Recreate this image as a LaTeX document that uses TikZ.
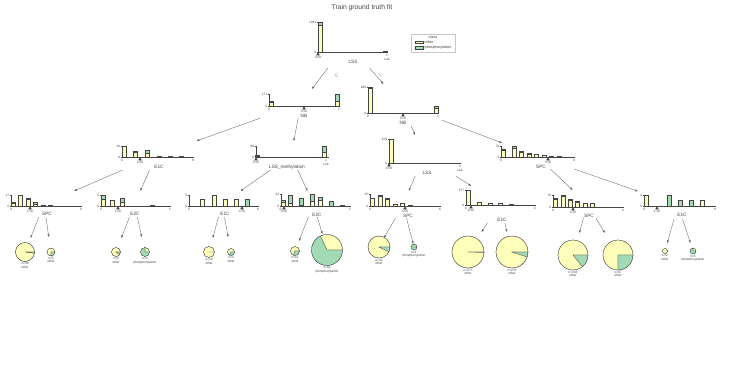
\documentclass[tikz,border=0pt]{standalone}
\usepackage{fontspec}
\setmainfont{Liberation Sans}
\usepackage{tikz}
\usetikzlibrary{arrows.meta, calc}

\definecolor{classA}{HTML}{FEFEBB}
\definecolor{classB}{HTML}{A1DAB4}
\definecolor{axisgray}{HTML}{444443}
\definecolor{edgegray}{HTML}{5A5A5A}

% axes of one histogram: name, x0, x1, base, top, max count
\newcommand{\histaxes}[6]{%
  \draw[yaxisline] (#2,#5) -- (#2,#4);
  \draw[yaxisline] (#2-1.2,#5) -- (#2,#5) (#2-1.2,#4) -- (#2,#4);
  \draw[xaxisline] (#2,#4) -- (#3,#4);
  \draw[yaxisline] (#3,#4) -- (#3,#4+1.2);
  \node[ticklbl, anchor=east] (#1-ymax) at (#2-1.4,#5) {#6};
  \node[ticklbl, anchor=east] (#1-ymin) at (#2-1.4,#4) {0};
}
% stacked bar: x, base, top of other, top of phosphorylation
\newcommand{\histbar}[4]{%
  \ifdim#2pt>#3pt \filldraw[barA] (#1,#2) rectangle (#1+4,#3);\fi
  \ifdim#3pt>#4pt \filldraw[barB] (#1,#3) rectangle (#1+4,#4);\fi
}
% split marker: name, x, base, value
\newcommand{\splitmark}[4]{%
  \fill[axisgray] (#2,#3+0.4) -- (#2-1.8,#3+3.4) -- (#2+1.8,#3+3.4) -- cycle;
  \node[ticklbl, anchor=north] (#1-split) at (#2,#3+3.6) {#4};
}
% leaf: name, cx, cy, radius, share of other, top of box, n, class
\newcommand{\pieleaf}[8]{%
  \node[leafbox, minimum width={(2*#4+4)*0.05cm}, minimum height={2*(#3-#6)*0.05cm}] (#1) at (#2,#3) {};
  \ifdim#5pt>0pt \filldraw[pieA] (#1.center) -- ++(0:#4) arc[start angle=0, end angle={-360*#5}, radius=#4] -- cycle;\fi
  \ifdim#5pt<1pt \filldraw[pieB] (#1.center) -- ++({-360*#5}:#4) arc[start angle={-360*#5}, end angle=-360, radius=#4] -- cycle;\fi
  \draw[pieedge] (#1.center) circle[radius=#4];
  \node[leaflbl] (#1-lbl) at ($(#1.center)+(0,#4+0.8)$) {n=#7\\#8};
}

\begin{document}
\begin{tikzpicture}[
    x=0.05cm, y=-0.05cm,
    panel/.style n args={2}{rectangle, inner sep=0pt, minimum width=#1*0.05cm, minimum height=#2*0.05cm},
    leafbox/.style={rectangle, inner sep=0pt},
    xaxisline/.style={draw=axisgray, line width=1.1pt},
    yaxisline/.style={draw=axisgray, line width=0.35pt},
    barA/.style={fill=classA, draw=axisgray, line width=0.3pt},
    barB/.style={fill=classB, draw=axisgray, line width=0.3pt},
    pieA/.style={fill=classA, draw=axisgray, line width=0.3pt},
    pieB/.style={fill=classB, draw=axisgray, line width=0.3pt},
    pieedge/.style={draw=axisgray, line width=0.3pt},
    ticklbl/.style={inner sep=0.3pt, text=axisgray, align=center, font=\fontsize{4.5}{6.5}\selectfont},
    featlbl/.style={inner sep=0pt, text=axisgray, font=\fontsize{6.7}{7}\selectfont},
    leaflbl/.style={anchor=north, inner sep=0pt, align=center, text=axisgray, font=\fontsize{4.6}{5.2}\selectfont},
    treeedge/.style={-{Triangle[length=3.6pt,width=2.6pt]}, draw=edgegray, line width=0.45pt},
    edgelbl/.style={inner sep=0pt, text=axisgray, font=\fontsize{6}{6}\selectfont},
    legitem/.style={anchor=west, inner sep=0pt, text=axisgray, font=\fontsize{5.4}{6}\selectfont},
]
    \fill[white] (0,0) rectangle (747,382);
    \useasboundingbox (0,0) rectangle (747,382);

    % Title
    \node[font=\fontsize{9.6}{11}\selectfont, text=axisgray] (title) at (362,8) {Train ground truth fit};

    % Legend
    \node[draw=gray!45, line width=0.4pt, panel={44}{18}] (legend) at (433,43) {};
    \node[legitem, anchor=center] (legend-title) at (433,37.5) {class};
    \filldraw[barA] (415,41) rectangle (423,43.3);
    \node[legitem] (legend-a) at (424.5,42.2) {other};
    \filldraw[barB] (415,46.5) rectangle (423,48.8);
    \node[legitem] (legend-b) at (424.5,47.7) {phosphorylation};

    % Root: LSS
    \node[panel={90}{51}] (lss0) at (347,42.5) {};
    \histaxes{lss0}{318}{387}{52}{22}{1281}
    \histbar{318}{52}{25}{22}
    \histbar{383}{52}{51.3}{51.3}
    \splitmark{lss0}{318}{52}{0.50}
    \node[ticklbl, anchor=north] (lss0-hi) at (387,53.5) {1\\Leb};
    \node[featlbl] (lss0-feat) at (353,62) {LSS};

    % Level 1: NB (left)
    \node[panel={88}{29}] (nb1) at (301,103.5) {};
    \histaxes{nb1}{269}{339}{106}{94}{171}
    \histbar{269}{106}{102}{101}
    \histbar{335}{106}{101}{94}
    \node[ticklbl, anchor=north] (nb1-lo) at (269,107.5) {0};
    \node[ticklbl, anchor=north] (nb1-hi) at (339,107.5) {1};
    \splitmark{nb1}{304}{106}{0.50}
    \node[featlbl] (nb1-feat) at (304,115.5) {NB};

    % Level 1: NB (right)
    \node[panel={80}{42}] (nb2) at (402,105) {};
    \histaxes{nb2}{368}{438}{113}{87}{889}
    \histbar{368}{113}{88}{87}
    \histbar{434}{113}{108}{106}
    \node[ticklbl, anchor=north] (nb2-lo) at (368,114.5) {0};
    \node[ticklbl, anchor=north] (nb2-hi) at (438,114.5) {1};
    \splitmark{nb2}{403}{113}{0.50}
    \node[featlbl] (nb2-feat) at (403,123) {NB};

    % Level 2: E1C
    \node[panel={82}{29}] (e1c1) at (156,155.5) {};
    \histaxes{e1c1}{122}{193}{157}{146}{20}
    \histbar{122}{157}{146.5}{146}
    \histbar{133}{157}{152}{151}
    \histbar{145}{157}{153}{150}
    \histbar{157}{157}{156.5}{155.8}
    \histbar{168}{157}{156.6}{156.3}
    \histbar{179}{157}{156.5}{156.5}
    \node[ticklbl, anchor=north] (e1c1-lo) at (122,158.5) {0};
    \node[ticklbl, anchor=north] (e1c1-hi) at (193,158.5) {6};
    \splitmark{e1c1}{140}{157}{1.50}
    \node[featlbl] (e1c1-feat) at (159,167) {E1C};

    % Level 2: LSS_methylation
    \node[panel={82}{29}] (lssm) at (291,155.5) {};
    \histaxes{lssm}{256}{328}{157}{146}{68}
    \histbar{255}{157}{156}{155}
    \histbar{322}{157}{152}{146}
    \splitmark{lssm}{256}{157}{0.50}
    \node[ticklbl, anchor=north] (lssm-hi) at (326,158.5) {1\\Leb};
    \node[featlbl] (lssm-feat) at (287,167) {LSS\_methylation};

    % Level 2: LSS
    \node[panel={84}{41}] (lss1) at (424,155.5) {};
    \histaxes{lss1}{389}{460}{163}{139}{878}
    \histbar{389}{163}{139.5}{139}
    \splitmark{lss1}{389}{163}{0.50}
    \node[ticklbl, anchor=north] (lss1-hi) at (460,164.5) {1\\Leb};
    \node[featlbl] (lss1-feat) at (427,173) {LSS};

    % Level 2: SPC
    \node[panel={83}{26}] (spc1) at (536.5,156) {};
    \histaxes{spc1}{501}{574}{157}{146}{70}
    \histbar{501}{157}{150.5}{149}
    \histbar{512}{157}{148}{146}
    \histbar{519}{157}{152}{151}
    \histbar{527}{157}{154}{153}
    \histbar{534}{157}{154.5}{154}
    \histbar{542}{157}{155.5}{155}
    \histbar{549}{157}{156.5}{156.5}
    \histbar{557}{157}{156.5}{156.5}
    \node[ticklbl, anchor=north] (spc1-lo) at (501,158.5) {0};
    \node[ticklbl, anchor=north] (spc1-hi) at (574,158.5) {6};
    \splitmark{spc1}{548}{157}{3.50}
    \node[featlbl] (spc1-feat) at (541,166.5) {SPC};

    % Level 3: SPC
    \node[panel={80}{26}] (spc2) at (44,204) {};
    \histaxes{spc2}{11}{81}{206}{195}{17}
    \histbar{11}{206}{203}{202}
    \histbar{18}{206}{195}{195}
    \histbar{26}{206}{199}{198}
    \histbar{33}{206}{204}{202}
    \histbar{41}{206}{205.5}{205}
    \histbar{48}{206}{205.2}{205.2}
    \node[ticklbl, anchor=north] (spc2-lo) at (11,207.5) {0};
    \node[ticklbl, anchor=north] (spc2-hi) at (81,207.5) {6};
    \splitmark{spc2}{30}{206}{1.50}
    \node[featlbl] (spc2-feat) at (47,214) {SPC};

    % Level 3: E2C
    \node[panel={77}{26}] (e2c1) at (134.5,204) {};
    \histaxes{e2c1}{101}{170}{206}{195}{5}
    \histbar{101}{206}{199}{195}
    \histbar{110}{206}{200}{200}
    \histbar{120}{206}{202}{198}
    \histbar{150}{206}{206}{205}
    \node[ticklbl, anchor=north] (e2c1-lo) at (101,207.5) {0};
    \node[ticklbl, anchor=north] (e2c1-hi) at (170,207.5) {1};
    \splitmark{e2c1}{118}{206}{1.00}
    \node[featlbl] (e2c1-feat) at (135,214) {E2C};

    % Level 3: E1C
    \node[panel={76}{26}] (e1c2) at (222,204) {};
    \histaxes{e1c2}{189}{258}{206}{195}{5}
    \histbar{200}{206}{199}{199}
    \histbar{212}{206}{195}{195}
    \histbar{223}{206}{199}{199}
    \histbar{234}{206}{199}{199}
    \histbar{245}{206}{206}{199}
    \node[ticklbl, anchor=north] (e1c2-lo) at (189,207.5) {0};
    \node[ticklbl, anchor=north] (e1c2-hi) at (258,207.5) {6};
    \splitmark{e1c2}{242}{206}{4.50}
    \node[featlbl] (e1c2-feat) at (225,214) {E1C};

    % Level 3: E2C
    \node[panel={77}{26}] (e2c2) at (313.5,204) {};
    \histaxes{e2c2}{281}{350}{206}{194}{23}
    \histbar{281}{206}{202.3}{200}
    \histbar{288}{206}{203}{195}
    \histbar{299}{206}{205}{198}
    \histbar{310}{206}{201}{194}
    \histbar{318}{206}{200}{197}
    \histbar{329}{206}{206}{201}
    \histbar{340}{206}{205.5}{205.5}
    \node[ticklbl, anchor=north] (e2c2-lo) at (280.5,207.5) {0};
    \node[ticklbl, anchor=north] (e2c2-hi) at (350,207.5) {1};
    \splitmark{e2c2}{284}{206}{0.50}
    \node[featlbl] (e2c2-feat) at (317,215) {E2C};

    % Level 3: SPC
    \node[panel={80}{27}] (spc3) at (403,204.5) {};
    \histaxes{spc3}{370}{440}{206}{194}{15}
    \histbar{370}{206}{198}{198}
    \histbar{378}{206}{196}{195}
    \histbar{385}{206}{199}{198}
    \histbar{393}{206}{204}{204}
    \histbar{400}{206}{203.5}{203}
    \histbar{408}{206}{205.3}{205.3}
    \node[ticklbl, anchor=north] (spc3-lo) at (370,207.5) {0};
    \node[ticklbl, anchor=north] (spc3-hi) at (440,207.5) {6};
    \splitmark{spc3}{405}{206}{4.50}
    \node[featlbl] (spc3-feat) at (408,215.5) {SPC};

    % Level 3: E1C
    \node[panel={80}{37}] (e1c3) at (500,204.5) {};
    \histaxes{e1c3}{466}{535}{205}{190}{577}
    \histbar{466}{205}{190}{190}
    \histbar{477}{205}{202}{202}
    \histbar{488}{205}{203.5}{203.5}
    \histbar{498}{205}{203.5}{203.5}
    \histbar{509}{205}{204.5}{204.5}
    \node[ticklbl, anchor=north] (e1c3-lo) at (466,206.5) {0};
    \node[ticklbl, anchor=north] (e1c3-hi) at (535,206.5) {6};
    \splitmark{e1c3}{471}{205}{0.50}
    \node[featlbl] (e1c3-feat) at (502,219.5) {E1C};

    % Level 3: SPC
    \node[panel={79}{28}] (spc4) at (587.5,204) {};
    \histaxes{spc4}{553}{623}{207}{195}{76}
    \histbar{553}{207}{199}{198}
    \histbar{561}{207}{196}{195}
    \histbar{568}{207}{200}{199}
    \histbar{575}{207}{202}{201.5}
    \histbar{583}{207}{203}{203}
    \histbar{590}{207}{203}{203}
    \node[ticklbl, anchor=north] (spc4-lo) at (553,208.5) {0};
    \node[ticklbl, anchor=north] (spc4-hi) at (623,208.5) {6};
    \splitmark{spc4}{573}{207}{2.50}
    \node[featlbl] (spc4-feat) at (589,215.5) {SPC};

    % Level 3: E1C
    \node[panel={80}{28}] (e1c4) at (678,205) {};
    \histaxes{e1c4}{644}{715}{206}{195}{2}
    \histbar{644}{206}{195}{195}
    \histbar{667}{206}{206}{195}
    \histbar{678}{206}{206}{200}
    \histbar{689}{206}{206}{200}
    \histbar{700}{206}{200}{200}
    \node[ticklbl, anchor=north] (e1c4-lo) at (644,207.5) {0};
    \node[ticklbl, anchor=north] (e1c4-hi) at (715,207.5) {6};
    \splitmark{e1c4}{657}{206}{1.50}
    \node[featlbl] (e1c4-feat) at (682,215) {E1C};

    % Leaves
    \pieleaf{leaf1}{25}{252}{9.5}{0.98}{238}{58}{other}
    \pieleaf{leaf2}{51}{252}{4}{0.75}{237}{5}{other}
    \pieleaf{leaf3}{116}{252}{4.5}{0.9}{238}{4}{other}
    \pieleaf{leaf4}{145}{252}{4.5}{0.25}{237}{4}{phosphorylation}
    \pieleaf{leaf5}{209}{252}{5.5}{1.0}{238}{14}{other}
    \pieleaf{leaf6}{231}{252}{3.5}{0.67}{237}{3}{other}
    \pieleaf{leaf7}{295}{251}{4.5}{0.7}{241}{11}{other}
    \pieleaf{leaf8}{327}{250}{15.5}{0.32}{234}{81}{phosphorylation}
    \pieleaf{leaf9}{379}{247}{11}{0.93}{238}{42}{other}
    \pieleaf{leaf10}{414}{247}{3}{0.0}{244}{1}{phosphorylation}
    \pieleaf{leaf11}{468}{252}{16}{0.997}{232}{577}{other}
    \pieleaf{leaf12}{512}{252}{16}{0.95}{232}{276}{other}
    \pieleaf{leaf13}{573}{255}{15}{0.86}{233}{183}{other}
    \pieleaf{leaf14}{618}{255}{15}{0.75}{233}{87}{other}
    \pieleaf{leaf15}{665}{251}{2.5}{1.0}{243}{2}{other}
    \pieleaf{leaf16}{693}{251}{3}{0.25}{243}{5}{phosphorylation}

    % Tree edges
    \draw[treeedge] (lss0) -- (nb1) node[edgelbl, pos=0.35, xshift=0.7cm] {$\le$};
    \draw[treeedge] (lss0) -- (nb2) node[edgelbl, pos=0.45, xshift=0.2cm] {$>$};
    \draw[treeedge] (nb1) -- (e1c1);
    \draw[treeedge] (nb1) -- (lssm);
    \draw[treeedge] (nb2) -- (lss1);
    \draw[treeedge] (nb2) -- (spc1);
    \draw[treeedge] (e1c1) -- (spc2);
    \draw[treeedge] (e1c1) -- (e2c1);
    \draw[treeedge] (lssm) -- (e1c2);
    \draw[treeedge] (lssm) -- (e2c2);
    \draw[treeedge] (lss1) -- (spc3);
    \draw[treeedge] (lss1) -- (e1c3);
    \draw[treeedge] (spc1) -- (spc4);
    \draw[treeedge] (spc1) -- (e1c4);

    % Edges to leaves
    \draw[treeedge] (spc2) -- (leaf1);
    \draw[treeedge] (spc2) -- (leaf2);
    \draw[treeedge] (e2c1) -- (leaf3);
    \draw[treeedge] (e2c1) -- (leaf4);
    \draw[treeedge] (e1c2) -- (leaf5);
    \draw[treeedge] (e1c2) -- (leaf6);
    \draw[treeedge] (e2c2) -- (leaf7);
    \draw[treeedge] (e2c2) -- (leaf8);
    \draw[treeedge] (spc3) -- (leaf9);
    \draw[treeedge] (spc3) -- (leaf10);
    \draw[treeedge] (e1c3) -- (leaf11);
    \draw[treeedge] (e1c3) -- (leaf12);
    \draw[treeedge] (spc4) -- (leaf13);
    \draw[treeedge] (spc4) -- (leaf14);
    \draw[treeedge] (e1c4) -- (leaf15);
    \draw[treeedge] (e1c4) -- (leaf16);
\end{tikzpicture}
\end{document}
